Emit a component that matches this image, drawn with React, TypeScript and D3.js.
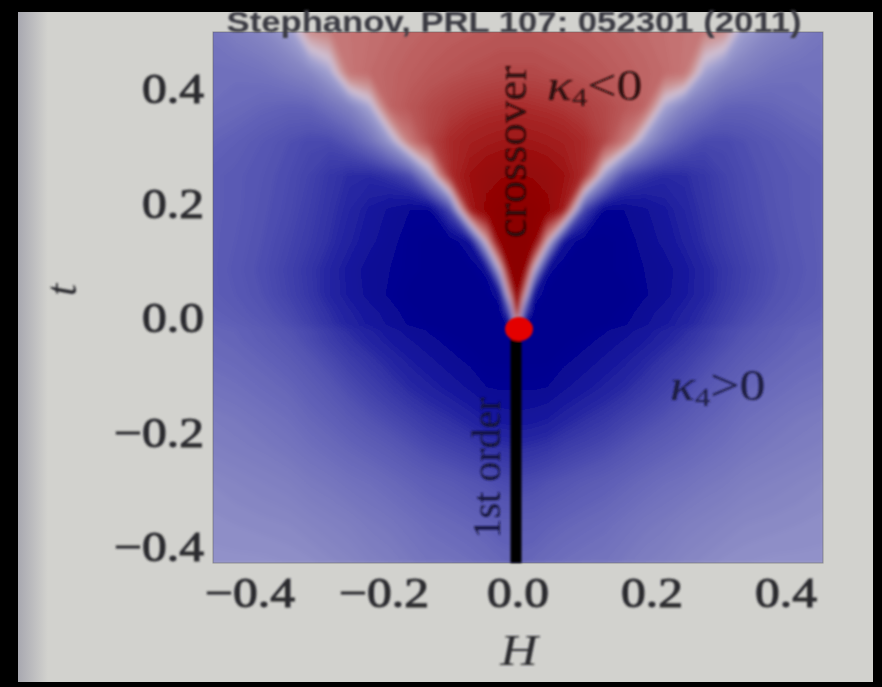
import React from 'react'
import * as d3 from 'd3'

// grid of the density plot: columns are H, rows are t (top row first)
const hGrid = [-0.46, -0.42, -0.38, -0.34, -0.31, -0.28, -0.25, -0.22, -0.19, -0.16, -0.13, -0.1, -0.07, -0.045, -0.025, -0.01, 0,
  0.01, 0.025, 0.045, 0.07, 0.1, 0.13, 0.16, 0.19, 0.22, 0.25, 0.28, 0.31, 0.34, 0.38, 0.42, 0.46]
const tGrid = [0.53, 0.45, 0.39, 0.33, 0.27, 0.21, 0.155, 0.105, 0.062, 0.031, 0.01, 0, -0.02, -0.05, -0.1, -0.155, -0.205, -0.265, -0.34, -0.41]

// signed kurtosis intensity (negative = red, positive = blue)
const kappaRows = [
  [0.36,0.3,0.24,0.12,-0.22,-0.27,-0.29,-0.31,-0.33,-0.35,-0.37,-0.39,-0.4,-0.41,-0.42,-0.42,-0.42,-0.42,-0.42,-0.41,-0.4,-0.39,-0.37,-0.35,-0.33,-0.31,-0.29,-0.27,-0.22,0.12,0.24,0.3,0.36],
  [0.4,0.4,0.38,0.32,0.26,0.12,-0.28,-0.33,-0.36,-0.39,-0.42,-0.44,-0.46,-0.47,-0.48,-0.48,-0.48,-0.48,-0.48,-0.47,-0.46,-0.44,-0.42,-0.39,-0.36,-0.33,-0.28,0.12,0.26,0.32,0.38,0.4,0.4],
  [0.41,0.43,0.46,0.48,0.47,0.39,0.29,0.1,-0.36,-0.43,-0.48,-0.52,-0.55,-0.57,-0.58,-0.59,-0.59,-0.59,-0.58,-0.57,-0.55,-0.52,-0.48,-0.43,-0.36,0.1,0.29,0.39,0.47,0.48,0.46,0.43,0.41],
  [0.46,0.49,0.53,0.57,0.6,0.6,0.53,0.4,0.16,-0.26,-0.5,-0.6,-0.66,-0.69,-0.71,-0.72,-0.72,-0.72,-0.71,-0.69,-0.66,-0.6,-0.5,-0.26,0.16,0.4,0.53,0.6,0.6,0.57,0.53,0.49,0.46],
  [0.5,0.52,0.55,0.59,0.63,0.69,0.74,0.75,0.7,0.58,0.14,-0.58,-0.76,-0.83,-0.86,-0.87,-0.87,-0.87,-0.86,-0.83,-0.76,-0.58,0.14,0.58,0.7,0.75,0.74,0.69,0.63,0.59,0.55,0.52,0.5],
  [0.5,0.52,0.56,0.6,0.65,0.71,0.77,0.84,0.9,0.95,0.95,0.6,-0.68,-0.9,-0.95,-0.96,-0.96,-0.96,-0.95,-0.9,-0.68,0.6,0.95,0.95,0.9,0.84,0.77,0.71,0.65,0.6,0.56,0.52,0.5],
  [0.5,0.53,0.57,0.62,0.67,0.73,0.8,0.87,0.93,0.98,1,1,0.88,-0.1,-0.94,-1,-1,-1,-0.94,-0.1,0.88,1,1,0.98,0.93,0.87,0.8,0.73,0.67,0.62,0.57,0.53,0.5],
  [0.5,0.54,0.58,0.64,0.7,0.77,0.85,0.92,0.95,0.98,1,1,1,0.92,0,-0.95,-1,-0.95,0,0.92,1,1,1,0.98,0.95,0.92,0.85,0.77,0.7,0.64,0.58,0.54,0.5],
  [0.5,0.53,0.57,0.63,0.69,0.77,0.84,0.91,0.96,1,1,1,1,1,0.88,-0.3,-0.95,-0.3,0.88,1,1,1,1,1,0.96,0.91,0.84,0.77,0.69,0.63,0.57,0.53,0.5],
  [0.48,0.51,0.55,0.6,0.66,0.73,0.8,0.86,0.92,0.98,1,1,1,1,1,0.5,-0.8,0.5,1,1,1,1,1,0.98,0.92,0.86,0.8,0.73,0.66,0.6,0.55,0.51,0.48],
  [0.46,0.49,0.53,0.58,0.64,0.71,0.78,0.84,0.9,0.96,1,1,1,1,1,0.9,-0.3,0.9,1,1,1,1,1,0.96,0.9,0.84,0.78,0.71,0.64,0.58,0.53,0.49,0.46],
  [0.45,0.47,0.51,0.56,0.6,0.67,0.74,0.8,0.86,0.92,0.96,1,1,1,1,1,1,1,1,1,1,1,0.96,0.92,0.86,0.8,0.74,0.67,0.6,0.56,0.51,0.47,0.45],
  [0.44,0.46,0.5,0.54,0.59,0.65,0.71,0.77,0.83,0.88,0.93,0.97,1,1,1,1,1,1,1,1,1,0.97,0.93,0.88,0.83,0.77,0.71,0.65,0.59,0.54,0.5,0.46,0.44],
  [0.42,0.44,0.47,0.51,0.55,0.6,0.66,0.71,0.77,0.83,0.88,0.93,0.97,1,1,1,1,1,1,1,0.97,0.93,0.88,0.83,0.77,0.71,0.66,0.6,0.55,0.51,0.47,0.44,0.42],
  [0.38,0.4,0.43,0.46,0.5,0.54,0.59,0.64,0.69,0.75,0.8,0.85,0.9,0.95,0.96,0.96,0.96,0.96,0.96,0.95,0.9,0.85,0.8,0.75,0.69,0.64,0.59,0.54,0.5,0.46,0.43,0.4,0.38],
  [0.33,0.35,0.38,0.41,0.45,0.48,0.52,0.56,0.6,0.64,0.69,0.73,0.78,0.83,0.85,0.86,0.86,0.86,0.85,0.83,0.78,0.73,0.69,0.64,0.6,0.56,0.52,0.48,0.45,0.41,0.38,0.35,0.33],
  [0.3,0.32,0.34,0.37,0.4,0.43,0.46,0.49,0.52,0.56,0.6,0.63,0.66,0.7,0.72,0.73,0.73,0.73,0.72,0.7,0.66,0.63,0.6,0.56,0.52,0.49,0.46,0.43,0.4,0.37,0.34,0.32,0.3],
  [0.25,0.27,0.29,0.31,0.34,0.36,0.39,0.41,0.44,0.47,0.5,0.52,0.55,0.57,0.59,0.6,0.6,0.6,0.59,0.57,0.55,0.52,0.5,0.47,0.44,0.41,0.39,0.36,0.34,0.31,0.29,0.27,0.25],
  [0.22,0.23,0.24,0.25,0.27,0.29,0.31,0.34,0.36,0.39,0.42,0.44,0.46,0.48,0.5,0.5,0.5,0.5,0.5,0.48,0.46,0.44,0.42,0.39,0.36,0.34,0.31,0.29,0.27,0.25,0.24,0.23,0.22],
  [0.2,0.2,0.2,0.21,0.22,0.24,0.26,0.29,0.31,0.34,0.37,0.38,0.4,0.42,0.44,0.45,0.45,0.45,0.44,0.42,0.4,0.38,0.37,0.34,0.31,0.29,0.26,0.24,0.22,0.21,0.2,0.2,0.2],
]

const xTicks = [-0.4, -0.2, 0, 0.2, 0.4]
const yTicks = [-0.4, -0.2, 0, 0.2, 0.4]
const title = 'Stephanov, PRL 107: 052301 (2011)'

// colour map: dark red -> pale -> lavender -> navy
const colorStops = [-1, -0.8, -0.6, -0.45, -0.3, -0.15, 0, 0.12, 0.25, 0.4, 0.55, 0.7, 0.85, 1]
const colorList = ['#8a0000', '#980a0a', '#a82a2a', '#b65252', '#c47272', '#cc9494', '#d0c0d2',
  '#a0a0d0', '#8888c4', '#7070bc', '#5454b2', '#3434a6', '#16169c', '#00008e']

const fmt = (v: number) => (v < 0 ? '\u2212' : '') + Math.abs(v).toFixed(1)

export default function App() {
  const x = d3.scaleLinear().domain([-0.4537, 0.4567]).range([213, 823])
  const y = d3.scaleLinear().domain([-0.407, 0.521]).range([563, 32])
  const color = d3.scaleLinear<string>().domain(colorStops).range(colorList).interpolate(d3.interpolateRgb).clamp(true)

  const n = hGrid.length, m = tGrid.length
  const colIdx = d3.scaleLinear().domain(d3.range(n)).range(hGrid)
  const rowIdx = d3.scaleLinear().domain(d3.range(m)).range(tGrid)
  const clamp = (v: number, lo: number, hi: number) => Math.max(lo, Math.min(hi, v))
  const toPx = (p: number[]) => [
    x(colIdx(clamp(p[0] - 0.5, 0, n - 1))).toFixed(2),
    y(rowIdx(clamp(p[1] - 0.5, 0, m - 1))).toFixed(2),
  ]

  const values = kappaRows.flat()
  const step = 0.02
  const thresholds = [-1.2, ...d3.range(-0.99, 1.0, step)]
  const bands = d3.contours().size([n, m]).thresholds(thresholds)(values)
  const pathOf = (mp: any) =>
    mp.coordinates.map((poly: number[][][]) =>
      poly.map(ring => 'M' + ring.map(p => toPx(p).join(',')).join('L') + 'Z').join('')
    ).join('')

  const ink = '#2a2a2e'
  const serif = '"Liberation Serif", "Times New Roman", serif'
  const sx = 1.18

  return (
    <svg width={882} height={687} style={{ position: 'fixed', left: 0, top: 0 }}>
      <defs>
        <clipPath id="plot">
          <rect x={213} y={32} width={610} height={531} />
        </clipPath>
        <filter id="smooth" x="-5%" y="-5%" width="110%" height="110%">
          <feGaussianBlur stdDeviation={2.4} />
        </filter>
        <filter id="soft">
          <feGaussianBlur stdDeviation={0.8} />
        </filter>
        <linearGradient id="edge" x1="0" x2="1" y1="0" y2="0">
          <stop offset="0" stopColor="#a8a8b0" />
          <stop offset="1" stopColor="#d2d2ce" />
        </linearGradient>
      </defs>

      <rect width={882} height={687} fill="#000" />
      <rect x={18} y={12} width={855} height={670} fill="#d2d2ce" />
      <rect x={18} y={12} width={30} height={670} fill="url(#edge)" />

      <g clipPath="url(#plot)">
        <g filter="url(#smooth)">
          {bands.map((b, i) => (
            <path key={i} d={pathOf(b)} fill={color(Math.max(-1, b.value) + step / 2)} fillRule="evenodd" />
          ))}
        </g>
      </g>
      <rect x={213} y={32} width={610} height={531} fill="none" stroke="#555" strokeOpacity={0.5} />

      {/* first-order line and critical point */}
      <g filter="url(#soft)">
        <line x1={x(0) - 1} x2={x(0) - 1} y1={y(0)} y2={563} stroke="#050505" strokeWidth={11} />
        <ellipse cx={x(0) + 2} cy={y(0) - 1} rx={14} ry={12} fill="#e40000" />
      </g>

      <g filter="url(#soft)" fill={ink} fontFamily={serif}>
        {xTicks.map(v => (
          <text key={v} transform={`translate(${x(v) + 1},607) scale(${sx},1)`} textAnchor="middle" fontSize={42}
            stroke={ink} strokeWidth={1}>{fmt(v)}</text>
        ))}
        {yTicks.map(v => (
          <text key={v} transform={`translate(204,${y(v) + 2}) scale(${sx},1)`} textAnchor="end" fontSize={42}
            stroke={ink} strokeWidth={1}>{fmt(v)}</text>
        ))}
        <text transform={`translate(519,665) scale(${sx},1)`} textAnchor="middle" fontSize={44} fontStyle="italic">H</text>
        <text transform="translate(76,290) rotate(-90)" textAnchor="middle" fontSize={44} fontStyle="italic">t</text>

        <text transform="translate(526,152) rotate(-90)" textAnchor="middle" fontSize={45} fill="#2a0808">crossover</text>
        <text transform="translate(500,468) rotate(-90)" textAnchor="middle" fontSize={40} fill="#15153a">1st order</text>

        <text transform={`translate(547,100) scale(${sx},1)`} fontSize={44} fill="#2a0a0a">
          <tspan fontStyle="italic">κ</tspan><tspan fontSize={26} dy={6}>4</tspan><tspan dy={-6}>&lt;0</tspan>
        </text>
        <text transform={`translate(670,400) scale(${sx},1)`} fontSize={44} fill="#1a1a40">
          <tspan fontStyle="italic">κ</tspan><tspan fontSize={26} dy={6}>4</tspan><tspan dy={-6}>&gt;0</tspan>
        </text>
      </g>

      <text x={514} y={32} textAnchor="middle" fontFamily='"Liberation Sans", Arial, sans-serif' fontWeight="bold"
        fontSize={29} textLength={575} lengthAdjust="spacingAndGlyphs" fill="#3a3a42" filter="url(#soft)">{title}</text>
    </svg>
  )
}
